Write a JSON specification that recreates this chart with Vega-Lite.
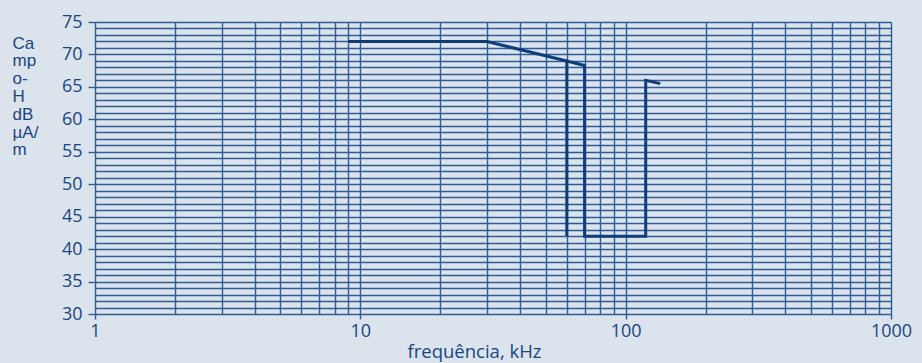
{
  "$schema": "https://vega.github.io/schema/vega-lite/v6.json",
  "width": 796,
  "height": 292,
  "autosize": {"type": "none"},
  "padding": {"left": 95, "top": 22, "right": 31, "bottom": 49},
  "background": "#dbe3ec",
  "config": {"view": {"stroke": null}},
  "data": {
    "values": [
      {"f": 9, "h": 72, "s": "a", "o": 1},
      {"f": 30, "h": 72, "s": "a", "o": 2},
      {"f": 60, "h": 69, "s": "a", "o": 3},
      {"f": 70, "h": 68.3, "s": "a", "o": 4},
      {"f": 70, "h": 42, "s": "a", "o": 5},
      {"f": 119, "h": 42, "s": "a", "o": 6},
      {"f": 119, "h": 66, "s": "a", "o": 7},
      {"f": 135, "h": 65.5, "s": "a", "o": 8},
      {"f": 60, "h": 69, "s": "b", "o": 1},
      {"f": 60, "h": 42, "s": "b", "o": 2}
    ]
  },
  "mark": {"type": "line", "color": "#0f3d7a", "strokeWidth": 3, "strokeJoin": "miter"},
  "encoding": {
    "x": {
      "field": "f", "type": "quantitative",
      "scale": {"type": "log", "domain": [1, 1000], "nice": false},
      "axis": {
        "values": [1,2,3,4,5,6,7,8,9,10,20,30,40,50,60,70,80,90,100,200,300,400,500,600,700,800,900,1000],
        "format": "d",
        "labelExpr": "indexof([1,10,100,1000], datum.value) >= 0 ? datum.label : ''",
        "tickOpacity": {"condition": {"test": "indexof([1,10,100,1000], datum.value) >= 0", "value": 1}, "value": 0},
        "grid": true, "gridColor": "#2f5c96", "gridWidth": 1.4, "gridOpacity": 1,
        "domain": false,
        "tickColor": "#2f5c96", "tickSize": 5, "tickWidth": 1.4,
        "labelFlush": false, "labelOverlap": false, "labelBound": false,
        "labelFont": "Open Sans", "labelFontSize": 18, "labelColor": "#1a4680", "labelPadding": 3,
        "title": "frequência, kHz",
        "titleFont": "Open Sans", "titleFontSize": 18.5, "titleFontWeight": "normal", "titleColor": "#1a4680",
        "titleAnchor": null, "titleAlign": "center", "titleBaseline": "alphabetic",
        "titleX": 379, "titleY": 43
      }
    },
    "y": {
      "field": "h", "type": "quantitative",
      "scale": {"domain": [30, 75], "nice": false, "zero": false},
      "axis": {
        "values": [30,31,32,33,34,35,36,37,38,39,40,41,42,43,44,45,46,47,48,49,50,51,52,53,54,55,56,57,58,59,60,61,62,63,64,65,66,67,68,69,70,71,72,73,74,75],
        "labelExpr": "datum.value % 5 == 0 ? datum.label : ''",
        "tickOpacity": {"condition": {"test": "datum.value % 5 == 0", "value": 1}, "value": 0},
        "grid": true, "gridColor": "#2f5c96", "gridWidth": 1.4, "gridOpacity": 1,
        "domain": false,
        "tickColor": "#2f5c96", "tickSize": 7, "tickWidth": 1.4,
        "labelFlush": false, "labelOverlap": false, "labelBound": false,
        "labelFont": "Open Sans", "labelFontSize": 18, "labelColor": "#1a4680", "labelPadding": 6,
        "title": ["Ca", "mp", "o-", "H", "dB", "µA/", "m"],
        "titleFont": "Liberation Sans", "titleFontSize": 17, "titleFontWeight": "normal", "titleColor": "#1a4680",
        "titleAngle": 0, "titleAnchor": null, "titleAlign": "left", "titleBaseline": "alphabetic",
        "titleLineHeight": 17.8,
        "titleX": -83, "titleY": 26
      }
    },
    "detail": {"field": "s", "type": "nominal"},
    "order": {"field": "o", "type": "quantitative"}
  }
}
